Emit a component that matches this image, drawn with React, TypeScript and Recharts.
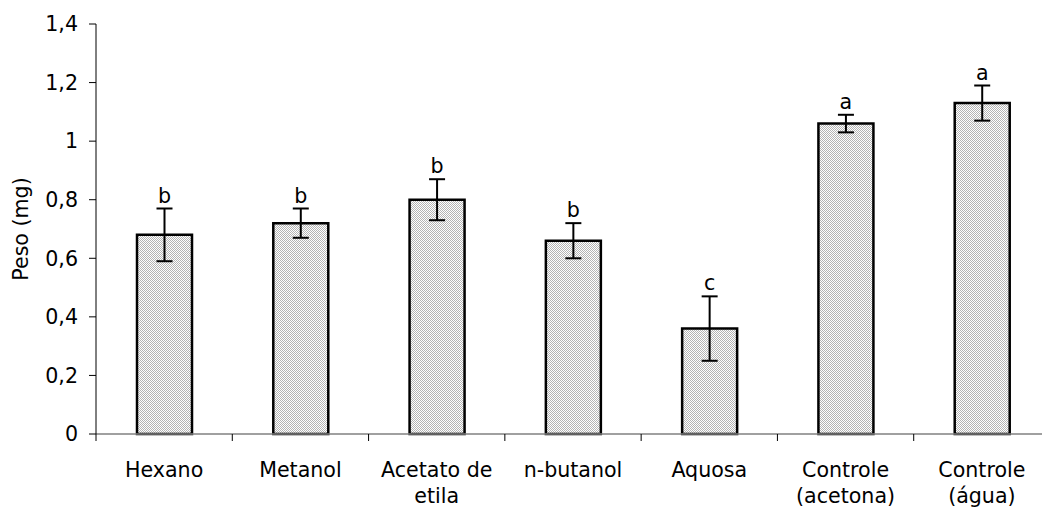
import React from 'react';
import { BarChart, Bar, XAxis, YAxis, ErrorBar, LabelList } from 'recharts';

const categories = ['Hexano', 'Metanol', 'Acetato de\netila', 'n-butanol', 'Aquosa', 'Controle\n(acetona)', 'Controle\n(água)'];
const pesos = [0.68, 0.72, 0.8, 0.66, 0.36, 1.06, 1.13];
const erros = [0.09, 0.05, 0.07, 0.06, 0.11, 0.03, 0.06];
const letras = ['b', 'b', 'b', 'b', 'c', 'a', 'a'];
const yTicks = [0, 0.2, 0.4, 0.6, 0.8, 1, 1.2, 1.4];

const data = categories.map((c, i) => ({ name: c, peso: pesos[i], erro: erros[i], letra: letras[i] }));

const FONT = 'DejaVu Sans, Verdana, sans-serif';
const FS = 20.6;
const X_TICK_SIZE = 7;
const X_TICK_MARGIN = 2;

// category label centred in its band, plus the tick marks on the band edges
const CategoryTick = (props: any) => {
  const { x, y, payload, index } = props;
  const half = payload.offset || 0;
  const axisY = y - X_TICK_SIZE - X_TICK_MARGIN;
  const lines = String(payload.value).split('\n');
  const last = index === categories.length - 1;
  return (
    <g>
      <line x1={x - half} x2={x - half} y1={axisY} y2={axisY + X_TICK_SIZE} stroke="#000" strokeWidth={1} />
      {last && <line x1={x + half} x2={x + half} y1={axisY} y2={axisY + X_TICK_SIZE} stroke="#000" strokeWidth={1} />}
      <text x={x} y={axisY + 43} textAnchor="middle" fontFamily={FONT} fontSize={FS} fill="#000">
        {lines.map((l, i) => (
          <tspan key={i} x={x} dy={i === 0 ? 0 : 26}>{l}</tspan>
        ))}
      </text>
    </g>
  );
};

// letter placed above the error bar cap, using the bar's own pixel scale
const LetterLabel = (props: any) => {
  const { x, y, width, height, index } = props;
  const pxPerUnit = height / pesos[index];
  const top = y - erros[index] * pxPerUnit;
  return (
    <text x={x + width / 2} y={top - 6} textAnchor="middle" fontFamily={FONT} fontSize={FS} fill="#000">
      {letras[index]}
    </text>
  );
};

const YLabel = (props: any) => {
  const vb = props.viewBox || {};
  const cy = vb.y + vb.height / 2;
  return (
    <text x={28} y={cy} transform={`rotate(-90, 28, ${cy})`} textAnchor="middle" fontFamily={FONT} fontSize={FS} fill="#000">
      Peso (mg)
    </text>
  );
};

export default function App() {
  return (
    <div style={{ position: 'absolute', left: 0, top: 0, width: 1042, height: 508, overflow: 'hidden', background: '#fff' }}>
      <svg width={0} height={0} style={{ position: 'absolute' }}>
        <defs>
          <pattern id="pontilhado" width={2} height={2} patternUnits="userSpaceOnUse">
            <rect width={2} height={2} fill="#ffffff" />
            <rect x={0} y={0} width={1} height={1} fill="#b4b4b4" />
            <rect x={1} y={1} width={1} height={1} fill="#b4b4b4" />
          </pattern>
        </defs>
      </svg>
      <BarChart width={1050} height={508} data={data} margin={{ top: 24, right: 0, left: 0, bottom: 0 }}>
        <XAxis
          dataKey="name"
          height={74}
          axisLine={{ stroke: '#808080', strokeWidth: 1.5 }}
          tickLine={false}
          tickSize={X_TICK_SIZE}
          tickMargin={X_TICK_MARGIN}
          interval={0}
          tick={<CategoryTick />}
        />
        <YAxis
          width={96}
          domain={[0, 1.4]}
          ticks={yTicks}
          tickSize={7}
          tickMargin={11}
          axisLine={{ stroke: '#000', strokeWidth: 1 }}
          tickLine={{ stroke: '#000', strokeWidth: 1 }}
          tickFormatter={(v: number) => String(v).replace('.', ',')}
          tick={{ fontFamily: FONT, fontSize: FS, fill: '#000' }}
          label={<YLabel />}
        />
        <Bar dataKey="peso" barSize={55} fill="url(#pontilhado)" stroke="#000" strokeWidth={2.5} isAnimationActive={false}>
          <ErrorBar dataKey="erro" width={8} stroke="#000" strokeWidth={2} direction="y" />
          <LabelList dataKey="letra" content={<LetterLabel />} />
        </Bar>
      </BarChart>
    </div>
  );
}
